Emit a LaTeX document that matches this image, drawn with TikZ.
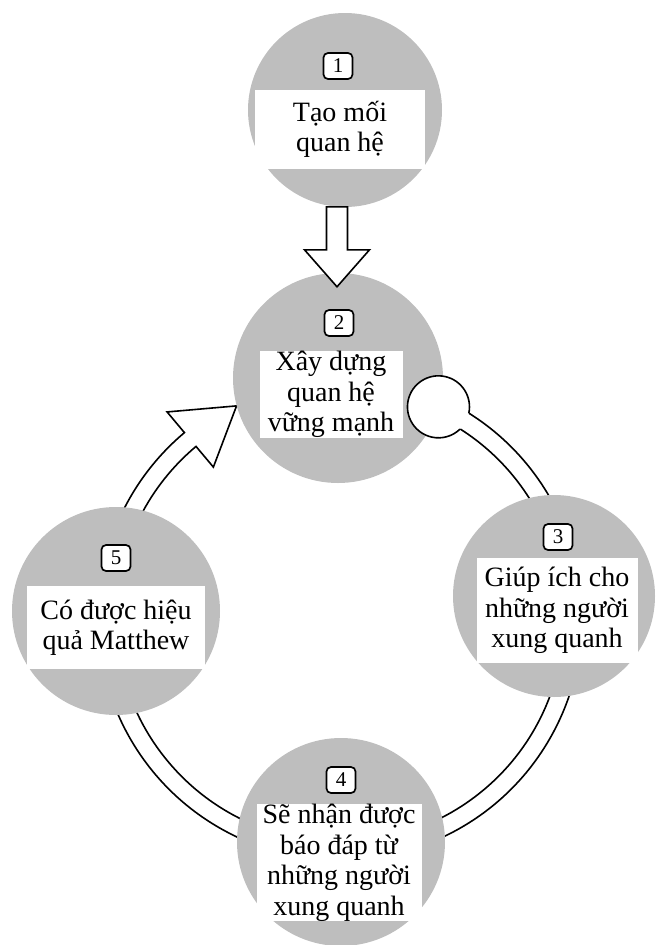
\documentclass[tikz,border=0pt]{standalone}
\usepackage{fontspec}
\setmainfont{Liberation Serif}
\usetikzlibrary{positioning, calc, backgrounds}
\definecolor{stagegray}{RGB}{190,190,190}
\tikzset{
  stage/.style = {
    circle, fill=stagegray, inner sep=0pt, minimum size=206pt
  },
  numbox/.style = {
    rectangle, rounded corners=4.5pt, draw=black, line width=1.7pt,
    fill=white, minimum width=29pt, minimum height=26pt, inner sep=0pt,
    font=\fontsize{21}{21}\selectfont
  },
  textbox/.style = {
    rectangle, fill=white, inner sep=0pt, align=center,
    font=\fontsize{28}{30.5}\selectfont
  },
  band/.style = {draw=black, line width=1.6pt, fill=white, line join=miter}
}

\begin{document}
\begin{tikzpicture}[x=1pt, y=1pt]
  \useasboundingbox (0,0) rectangle (657,-945);
  % Stages
  \node[stage, minimum size=194pt] (s1) at (345,-110) {};
  \node[stage, minimum size=210pt] (s2) at (338,-378) {};
  \node[stage, minimum size=202pt] (s3) at (554,-596) {};
  \node[stage, minimum size=208pt] (s4) at (341,-842) {};
  \node[stage, minimum size=208pt] (s5) at (116,-611) {};

  % Numbers and texts
  \node[numbox] (n1) at (338,-66) {1};
  \node[textbox, below=10pt of n1, xshift=2pt, minimum width=170pt, minimum height=79pt] (t1) {Tạo mối\\quan hệ};
  \node[numbox] (n2) at (339,-323) {2};
  \node[textbox, below=14pt of n2, xshift=-8pt, minimum width=143pt, minimum height=85pt] (t2) {Xây dựng\\quan hệ\\vững mạnh};
  \node[numbox] (n3) at (558,-537) {3};
  \node[textbox, below=7pt of n3, xshift=-1pt, minimum width=161pt, minimum height=105pt] (t3) {Giúp ích cho\\những người\\xung quanh};
  \node[numbox] (n4) at (341,-780) {4};
  \node[textbox, below=10pt of n4, xshift=-2pt, minimum width=165pt, minimum height=117pt] (t4) {Sẽ nhận được\\báo đáp từ\\những người\\xung quanh};
  \node[numbox] (n5) at (116,-558) {5};
  \node[textbox, below=14pt of n5, minimum width=178pt, minimum height=83pt] (t5) {Có được hiệu\\quả Matthew};

  % Ring
  \coordinate (hub) at (340,-618);
  \coordinate (knob) at ($(hub)+(65:233)$);
  \coordinate (back) at ($(hub)+(116:236)$);
  \begin{scope}[on background layer]
    \draw[band] ($(hub)+(62:242)$) arc[start angle=62, end angle=-230, radius=242]
      -- ($(hub)+(130:269)$) -- (back) -- ($(hub)+(130:197)$) -- ($(hub)+(130:224)$)
      arc[start angle=130, end angle=422, radius=224] -- cycle;
  \end{scope}
  \fill[white] (knob) circle[radius=31];
  \draw[line width=1.6pt] ($(knob)+(-12:31)$) arc[start angle=-12, end angle=314, radius=31];

  % Down arrow
  \coordinate (tip12) at ($(s2.north)+(-1,-14)$);
  \draw[band] (tip12) -- ++(32.5,37) -- ++(-22,0) -- ++(0,43) -- ++(-21,0)
    -- ++(0,-43) -- ++(-22,0) -- cycle;
\end{tikzpicture}
\end{document}
